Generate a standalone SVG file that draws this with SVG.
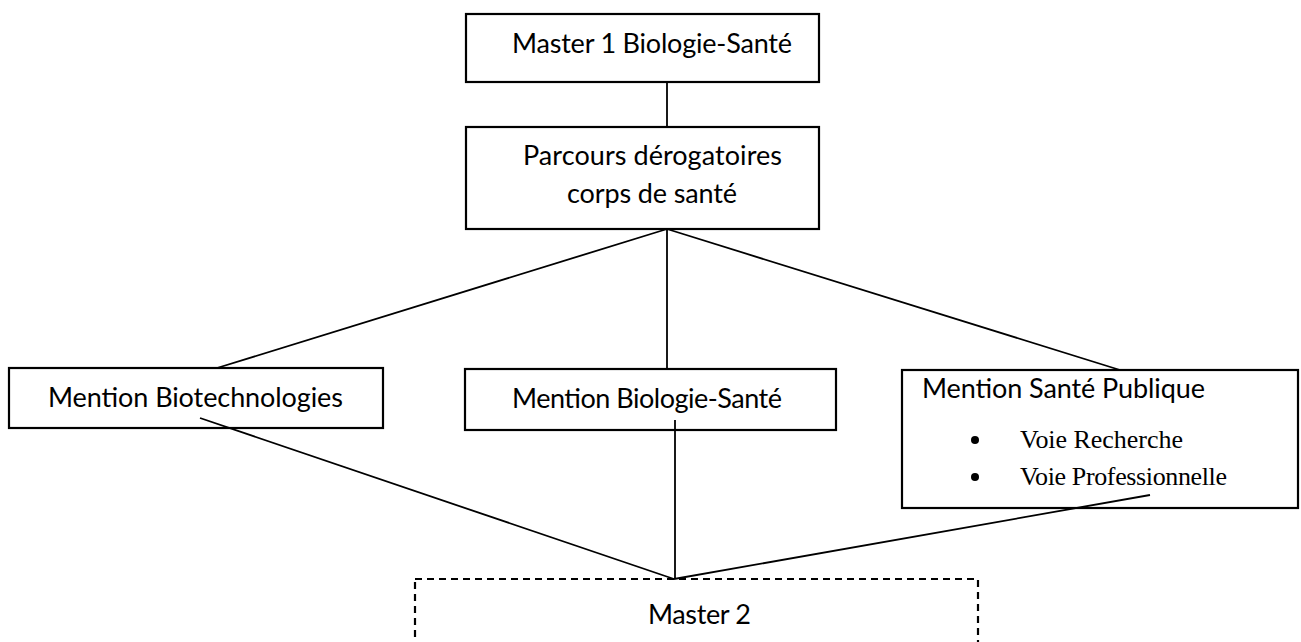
<svg xmlns="http://www.w3.org/2000/svg" width="1301" height="642" viewBox="0 0 1301 642">
<style>
rect.box{fill:#fff;stroke:#000;stroke-width:2.2}
rect.dash{fill:none;stroke:#000;stroke-width:2.2;stroke-dasharray:7 5}
.t{font-family:Lato,"Open Sans","Liberation Sans",sans-serif;font-size:27px;fill:#000}
.s{font-family:"Liberation Serif","Times New Roman",serif;font-size:26px;fill:#000}
.c line{stroke:#000;stroke-width:1.8}
</style>
<rect width="1301" height="642" fill="#fff"/>
<g id="connectors" class="c">
<line x1="667" y1="82" x2="667" y2="127"/>
<line x1="667" y1="229" x2="217" y2="368"/>
<line x1="667" y1="229" x2="667" y2="369"/>
<line x1="667" y1="229" x2="1120" y2="370"/>
</g>
<g id="n1"><rect class="box" x="466" y="14" width="353" height="68"/><text class="t" x="512" y="53" textLength="280">Master 1 Biologie-Santé</text></g>
<g id="n2"><rect class="box" x="466" y="127" width="353" height="102"/><text class="t" x="523" y="165" textLength="259">Parcours dérogatoires</text><text class="t" x="567" y="203" textLength="170">corps de santé</text></g>
<g id="n3"><rect class="box" x="9" y="368" width="374" height="60"/><text class="t" x="48" y="407" textLength="295">Mention Biotechnologies</text></g>
<g id="n4"><rect class="box" x="465" y="369" width="371" height="61"/><text class="t" x="512" y="408" textLength="270">Mention Biologie-Santé</text></g>
<g id="n5"><rect class="box" x="902" y="370" width="396" height="138"/><text class="t" x="922" y="398" textLength="283">Mention Santé Publique</text>
<circle cx="975" cy="440" r="4"/><text class="s" x="1020" y="448" textLength="163">Voie Recherche</text>
<circle cx="975" cy="477" r="4"/><text class="s" x="1020" y="485" textLength="207">Voie Professionnelle</text></g>
<g id="n6"><rect class="dash" x="415" y="579" width="563" height="90"/><text class="t" x="648" y="624" textLength="103">Master 2</text></g>
<g id="connectors-lower" class="c">
<line x1="200" y1="418" x2="674" y2="579"/>
<line x1="675" y1="420" x2="675" y2="579"/>
<line x1="1150" y1="495" x2="674" y2="579"/>
</g>
</svg>
